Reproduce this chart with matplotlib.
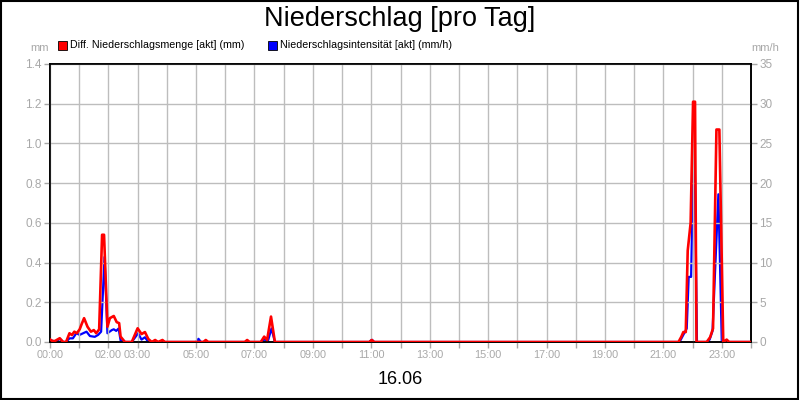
import matplotlib
matplotlib.use('Agg')
import matplotlib.pyplot as plt
from matplotlib.patches import Rectangle

plt.rcParams['font.family'] = ['Liberation Sans', 'DejaVu Sans']

############################################################################################
# Data (times as HH:MM, red in mm on left axis, blue in mm/h on right axis)
menge_times = ['00:00', '00:05', '00:10', '00:20', '00:27', '00:33', '00:40', '00:45', '00:50',
               '00:55', '01:01', '01:05', '01:10', '01:17', '01:24', '01:30', '01:35', '01:41',
               '01:47', '01:51', '01:58', '02:03', '02:11', '02:17', '02:22', '02:25', '02:34',
               '02:48', '03:00', '03:08', '03:15', '03:22', '03:29', '03:36', '03:42', '03:51',
               '03:56', '05:15', '05:20', '05:25', '06:40', '06:45', '06:50', '07:13', '07:20',
               '07:26', '07:34', '07:42', '10:56', '11:01', '11:06', '21:31', '21:37', '21:41',
               '21:46', '21:50', '21:56', '22:01', '22:05', '22:08', '22:29', '22:36', '22:42',
               '22:49', '22:55', '23:03', '23:10', '23:15', '24:00']
menge_mm = [0.013, 0.005, 0.005, 0.019, 0.0, 0.0, 0.044, 0.035, 0.052,
            0.044, 0.064, 0.09, 0.12, 0.077, 0.052, 0.06, 0.044, 0.064,
            0.54, 0.54, 0.077, 0.12, 0.131, 0.10, 0.095, 0.027, 0.0,
            0.0, 0.069, 0.04, 0.05, 0.015, 0.0, 0.01, 0.0, 0.01,
            0.0, 0.0, 0.01, 0.0, 0.0, 0.01, 0.0, 0.0, 0.027,
            0.01, 0.128, 0.0, 0.0, 0.01, 0.0, 0.0, 0.027, 0.05,
            0.05, 0.46, 0.6, 1.21, 1.21, 0.0, 0.0, 0.024, 0.068,
            1.07, 1.07, 0.0, 0.012, 0.0, 0.0]

intens_times = ['00:00', '00:03', '00:12', '00:20', '00:27', '00:33', '00:40', '00:47', '00:54',
                '01:01', '01:08', '01:15', '01:22', '01:32', '01:39', '01:45', '01:52', '01:58',
                '02:07', '02:11', '02:16', '02:21', '02:25', '02:34', '02:48', '03:01', '03:08',
                '03:15', '03:22', '05:00', '05:05', '05:10', '07:13', '07:20', '07:28', '07:35',
                '07:42', '10:56', '11:01', '11:06', '21:31', '21:35', '21:41', '21:48', '21:52',
                '21:57', '21:59', '22:03', '22:09', '22:30', '22:35', '22:41', '22:53', '23:00',
                '24:00']
intens_mmh = [0.0, 0.2, 0.0, 0.4, 0.0, 0.0, 0.46, 0.46, 1.1,
              0.9, 1.1, 1.3, 0.75, 0.65, 0.9, 1.3, 10.7, 1.1,
              1.5, 1.6, 1.4, 1.7, 0.2, 0.0, 0.0, 1.1, 0.3,
              0.6, 0.0, 0.0, 0.4, 0.0, 0.0, 0.3, 0.2, 1.7,
              0.0, 0.0, 0.3, 0.0, 0.0, 0.2, 0.9, 1.7, 8.2,
              8.2, 14.7, 30.0, 0.0, 0.0, 0.3, 1.4, 18.6, 0.0,
              0.0]

hour_labels = ['00:00', '02:00', '03:00', '05:00', '07:00', '09:00', '11:00', '13:00',
               '15:00', '17:00', '19:00', '21:00', '23:00']
day_label = '16.06'

def to_hours(t):
	h, m = t.split(':')
	return int(h) + int(m) / 60.0

############################################################################################
# Figure and axes layout
grey = '#a8a8a8'
fig = plt.figure(figsize=(8, 4), dpi=100)
fig.patch.set_facecolor('white')
fig.add_artist(Rectangle((0.001, 0.002), 0.997, 0.995, transform=fig.transFigure,
                         fill=False, edgecolor='black', lw=1.5))

ax = fig.add_axes([50/800, 58/400, 701/800, 278/400])
ax2 = ax.twinx()

############################################################################################
# Lines: blue underneath, red on top
ax2.plot([to_hours(t) for t in intens_times], intens_mmh, color='#0000ff', lw=1.6, zorder=3)
ax.plot([to_hours(t) for t in menge_times], menge_mm, color='#ff0000', lw=1.9, zorder=4)
ax.set_zorder(ax2.get_zorder() + 1)
ax.patch.set_visible(False)

ax.set_xlim(0, 24)
ax.set_ylim(0, 1.4)
ax2.set_ylim(0, 35)

ax.set_xticks(range(25), minor=False)
ax.set_xticklabels([h if h in hour_labels else '' for h in
                    ['%02d:00' % i for i in range(25)]])
ax.set_yticks([0.0, 0.2, 0.4, 0.6, 0.8, 1.0, 1.2, 1.4])
ax.set_yticklabels(['0.0', '0.2', '0.4', '0.6', '0.8', '1.0', '1.2', '1.4'])
ax2.set_yticks(range(0, 36, 5))

ax.grid(True, color='#bdbdbd', lw=1.0)
ax.set_axisbelow(True)
for a in (ax, ax2):
	a.tick_params(colors=grey, labelsize=8.5, length=4, width=1, labelcolor=grey, pad=2)
	for s in a.spines.values():
		s.set_color('black')
		s.set_linewidth(1.2)
ax.tick_params(axis='x', labelsize=7.8)

############################################################################################
# Texts: title, legend, units, date
fig.text(0.5, 0.953, 'Niederschlag [pro Tag]', ha='center', va='center', fontsize=19.5)

fig.add_artist(Rectangle((58/800, 1 - 50/400), 9/800, 9/400, transform=fig.transFigure,
                         facecolor='#ff0000', edgecolor='black', lw=0.6))
fig.text(70/800, 1 - 45.5/400, 'Diff. Niederschlagsmenge [akt] (mm)', ha='left', va='center', fontsize=7.7)
fig.add_artist(Rectangle((268/800, 1 - 50/400), 9/800, 9/400, transform=fig.transFigure,
                         facecolor='#0000ff', edgecolor='black', lw=0.6))
fig.text(280/800, 1 - 45.5/400, 'Niederschlagsintensität [akt] (mm/h)', ha='left', va='center', fontsize=7.7)

fig.text(40/800, 1 - 48/400, 'mm', ha='center', va='center', fontsize=8, color=grey)
fig.text(765/800, 1 - 48/400, 'mm/h', ha='center', va='center', fontsize=8, color=grey)

fig.text(400/800, 1 - 380/400, day_label, ha='center', va='center', fontsize=13)

plt.savefig('out.png', dpi=100, facecolor='white')
